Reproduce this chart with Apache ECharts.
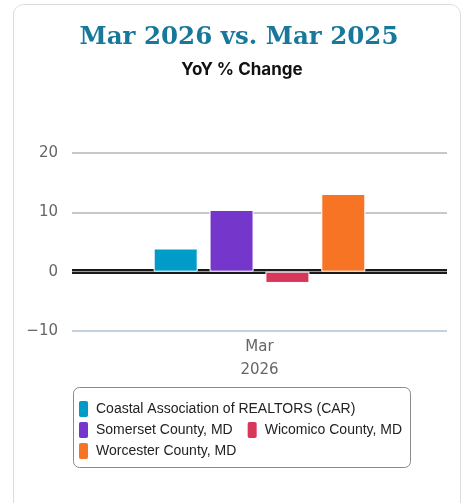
<!DOCTYPE html>
<html><head><meta charset="utf-8">
<script src="https://cdn.jsdelivr.net/npm/echarts@6/dist/echarts.min.js"></script>
<style>html,body{margin:0;padding:0;background:#fff}#c{width:466px;height:503px}</style>
</head><body><div id="c"></div>
<script>
const categories = ['Mar\n2026'];
const seriesNames = ['Coastal Association of REALTORS (CAR)','Somerset County, MD','Wicomico County, MD','Worcester County, MD'];
const carValues = [3.9];
const somersetValues = [10.4];
const wicomicoValues = [-1.9];
const worcesterValues = [13.1];
const colors = ['#009bc7','#7536cc','#d8365a','#f77425'];
const yTicks = [-10, 0, 10, 20];

const allValues = [carValues, somersetValues, wicomicoValues, worcesterValues];
const chart = echarts.init(document.getElementById('c'), null, {renderer:'canvas'});
const series = seriesNames.map((n,i)=>({
  name:n, type:'bar', data:allValues[i], barWidth:44, barGap:'27%',
  itemStyle:{color:colors[i], borderColor:'#fff', borderWidth:1},
  z:3
}));
series[0].markLine = {
  silent:true, symbol:'none', label:{show:false}, animation:false, z:2,
  data:[{yAxis:0, lineStyle:{color:'#1a1a1a', width:5, type:'solid'}},
        {yAxis:0, lineStyle:{color:'#999', width:1, type:'solid'}}]
};
chart.setOption({
  animation:false,
  color:colors,
  graphic:[
    {type:'rect', shape:{x:13.5,y:4.5,width:447,height:520,r:10}, style:{fill:'#fff',stroke:'#dcdcdc',lineWidth:1}, z:-10},
    {type:'rect', shape:{x:73.5,y:387.5,width:337,height:80,r:6}, style:{fill:'none',stroke:'#8a8a8a',lineWidth:1}, z:-5}
  ],
  title:[
    {text:'Mar 2026 vs. Mar 2025', left:234, textAlign:'center', top:20,
     textStyle:{fontFamily:'DejaVu Serif', fontWeight:'bold', fontSize:24.5, color:'#17789a'}},
    {text:'YoY % Change', left:237, textAlign:'center', top:56,
     textStyle:{fontFamily:'Inter', fontWeight:'bold', fontSize:17, color:'#111'}}
  ],
  legend:{
    data:seriesNames, left:73, top:397, width:345, orient:'horizontal',
    padding:[2,0,0,4], itemGap:1, itemWidth:11, itemHeight:18, icon:'roundRect',
    textStyle:{fontFamily:'Liberation Sans', fontSize:14, lineHeight:16, color:'#222', padding:[0,12,0,2]},
    selectedMode:false
  },
  grid:{left:72, right:19, top:153, bottom:172, containLabel:false},
  xAxis:{
    type:'category', data:categories,
    axisLine:{show:false}, axisTick:{show:false},
    axisLabel:{fontFamily:'DejaVu Sans', fontSize:15, color:'#666', lineHeight:23, margin:5}
  },
  yAxis:{
    type:'value', min:yTicks[0], max:yTicks[yTicks.length-1], interval:10,
    axisLine:{show:false}, axisTick:{show:false},
    axisLabel:{fontFamily:'DejaVu Sans', fontSize:15, color:'#666', margin:14,
      formatter:v=>String(v).replace('-','\u2212')},
    splitLine:{lineStyle:{color:['#c3d2de','#c8c8c8','#c8c8c8','#c8c8c8'], width:2}}
  },
  series:series
});
</script></body></html>
